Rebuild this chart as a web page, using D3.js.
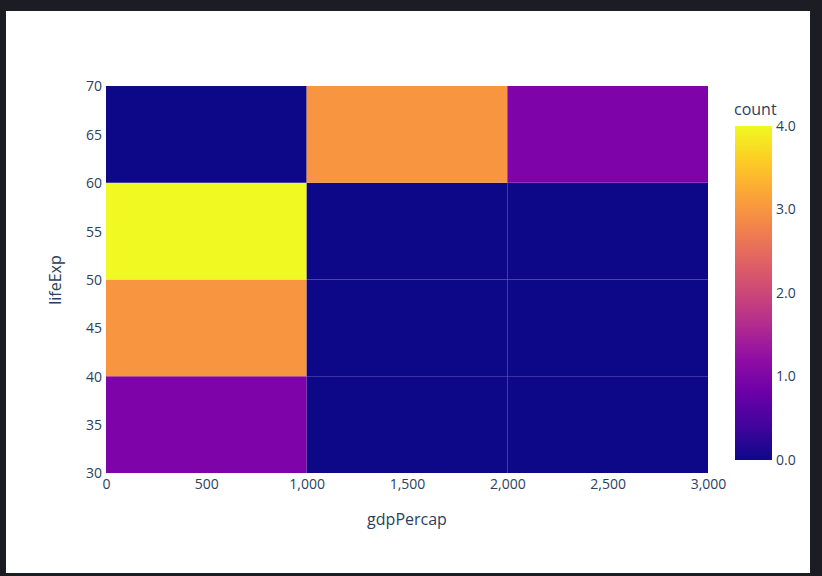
<!DOCTYPE html>
<html><head><meta charset="utf-8">
<script src="https://cdn.jsdelivr.net/npm/d3@7"></script>
<style>
body{margin:0;background:#1c1c24;font-family:"Open Sans",sans-serif}
</style></head><body>
<svg id="c" width="822" height="576"></svg>
<script>
const xBins = [0, 1000, 2000, 3000]
const yBins = [30, 40, 50, 60, 70]
// counts[row for y bin][col for x bin]
const counts = [
  [1, 0, 0],
  [3, 0, 0],
  [4, 0, 0],
  [0, 3, 1]
]
const xTicks = [0, 500, 1000, 1500, 2000, 2500, 3000]
const yTicks = [30, 35, 40, 45, 50, 55, 60, 65, 70]
const cTicks = [0, 1, 2, 3, 4]

const svg = d3.select('#c')
svg.append('rect').attr('x', 6).attr('y', 11).attr('width', 804).attr('height', 562).attr('fill', '#fff')

const x = d3.scaleLinear().domain([0, 3000]).range([106, 708])
const y = d3.scaleLinear().domain([30, 70]).range([473, 86])
const col = d3.scaleSequential(d3.interpolatePlasma).domain([0, 4])
const txt = '#2a3f5f'

const cells = []
counts.forEach((row, i) => row.forEach((v, j) => cells.push({ x0: xBins[j], x1: xBins[j + 1], y0: yBins[i], y1: yBins[i + 1], v })))
svg.append('g').selectAll('rect').data(cells).enter().append('rect')
  .attr('x', d => x(d.x0)).attr('y', d => y(d.y1))
  .attr('width', d => x(d.x1) - x(d.x0)).attr('height', d => y(d.y0) - y(d.y1))
  .attr('fill', d => col(d.v))

const xa = svg.append('g').attr('transform', 'translate(0,473)')
  .call(d3.axisBottom(x).tickValues(xTicks).tickSize(0).tickPadding(6))
const ya = svg.append('g').attr('transform', 'translate(106,0)')
  .call(d3.axisLeft(y).tickValues(yTicks).tickSize(0).tickPadding(4))
;[xa, ya].forEach(a => {
  a.select('.domain').remove()
  a.selectAll('text').attr('fill', txt).style('font-size', '14px').style('font-family', '"Open Sans",sans-serif')
})
ya.selectAll('text').attr('dy', '0.35em')

svg.append('text').attr('x', 407).attr('y', 525).attr('text-anchor', 'middle')
  .attr('fill', txt).style('font-size', '16px').text('gdpPercap')
svg.append('text').attr('transform', 'translate(61,280) rotate(-90)').attr('text-anchor', 'middle')
  .attr('fill', txt).style('font-size', '16px').text('lifeExp')

// colorbar
const cy = d3.scaleLinear().domain([0, 4]).range([460, 126])
const grad = svg.append('defs').append('linearGradient').attr('id', 'g')
  .attr('x1', 0).attr('y1', 1).attr('x2', 0).attr('y2', 0)
d3.range(0, 1.01, 0.1).forEach(t => grad.append('stop').attr('offset', t).attr('stop-color', d3.interpolatePlasma(t)))
svg.append('rect').attr('x', 735).attr('y', 126).attr('width', 37).attr('height', 334).attr('fill', 'url(#g)')
const ca = svg.append('g').attr('transform', 'translate(772,0)')
  .call(d3.axisRight(cy).tickValues(cTicks).tickSize(0).tickPadding(4))
ca.select('.domain').remove()
ca.selectAll('text').attr('fill', txt).style('font-size', '14px').style('font-family', '"Open Sans",sans-serif')
svg.append('text').attr('x', 734).attr('y', 115).attr('fill', txt).style('font-size', '16px').text('count')
</script></body></html>
